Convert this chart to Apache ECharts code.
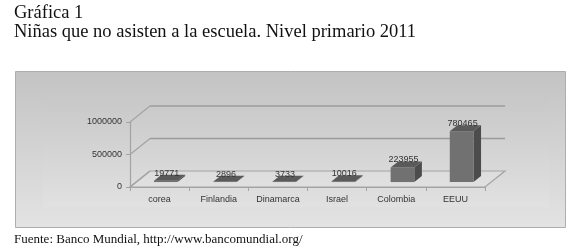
<!DOCTYPE html>
<html>
<head>
<meta charset="utf-8">
<script src="https://cdn.jsdelivr.net/npm/echarts@6/dist/echarts.min.js"></script>
<style>
html,body{margin:0;padding:0;background:#fff;}
#chart{width:580px;height:250px;}
</style>
</head>
<body>
<div id="chart"></div>
<script>
var categories = ['corea', 'Finlandia', 'Dinamarca', 'Israel', 'Colombia', 'EEUU'];
var values = [19771, 2896, 3733, 10016, 223955, 780465];
var yTicks = [0, 500000, 1000000];
var titleLine1 = 'Gráfica 1';
var titleLine2 = 'Niñas que no asisten a la escuela. Nivel primario 2011';
var sourceText = 'Fuente: Banco Mundial, http://www.bancomundial.org/';

var DX = 20, DY = -16;          // 3D depth offset of the floor
var F0 = 0.31, F1 = 0.69;       // bar depth position (fraction of floor depth)
var BARW = 0.40;                // bar width as fraction of category band

var chart = echarts.init(document.getElementById('chart'), null, {renderer: 'canvas'});

function renderFrame(params, api) {
  var cs = params.coordSys;
  var x0 = cs.x, x1 = cs.x + cs.width;
  var yb = api.coord([0, 0])[1];
  var children = [];
  children.push({
    type: 'polygon',
    shape: {points: [[x0, yb], [x1, yb], [x1 + DX, yb + DY], [x0 + DX, yb + DY]]},
    style: {fill: 'rgba(255,255,255,0.12)', stroke: '#a3a3a3', lineWidth: 1.2}
  });
  for (var i = 0; i < yTicks.length; i++) {
    var y = api.coord([0, yTicks[i]])[1];
    if (yTicks[i] !== 0) {
      children.push({
        type: 'line',
        shape: {x1: x0 + DX, y1: y + DY, x2: x1 + DX, y2: y + DY},
        style: {stroke: '#9b9b9b', lineWidth: 1.5}
      });
    }
    children.push({
      type: 'line',
      shape: {x1: x0, y1: y, x2: x0 + DX, y2: y + DY},
      style: {stroke: '#a3a3a3', lineWidth: 1.2}
    });
  }
  return {type: 'group', children: children};
}

function renderBar(params, api) {
  var idx = api.value(0), v = api.value(1);
  var base = api.coord([idx, 0]);
  var top = api.coord([idx, v]);
  var band = api.size([1, 0])[0];
  var w = band * BARW;
  var xa = base[0] - w / 2 + DX * F0, xb = xa + w;
  var yb = base[1] + DY * F0, yt = top[1] + DY * F0;
  var bdx = DX * (F1 - F0), bdy = DY * (F1 - F0);
  return {
    type: 'group',
    children: [
      {type: 'polygon', shape: {points: [[xb, yt], [xb + bdx, yt + bdy], [xb + bdx, yb + bdy], [xb, yb]]},
       style: {fill: '#4c4c4c'}},
      {type: 'polygon', shape: {points: [[xa, yt], [xb, yt], [xb, yb], [xa, yb]]},
       style: {fill: '#717171'}},
      {type: 'polygon', shape: {points: [[xa, yt], [xb, yt], [xb + bdx, yt + bdy], [xa + bdx, yt + bdy]]},
       style: {fill: '#5a5a5a'}},
      {type: 'text', x: xa + w / 2 + 1, y: yt - 3,
       style: {text: String(v), fill: '#333', font: '9px "Liberation Sans"', align: 'center', verticalAlign: 'bottom'}}
    ]
  };
}

var option = {
  animation: false,
  backgroundColor: '#ffffff',
  graphic: [
    {type: 'rect', z: -10, shape: {x: 15.5, y: 71.5, width: 550, height: 156},
     style: {fill: {type: 'linear', x: 0, y: 0, x2: 0, y2: 1,
       colorStops: [{offset: 0, color: '#c3c3c3'}, {offset: 1, color: '#e3e3e3'}]},
       stroke: '#aeaeae', lineWidth: 1}},
    {type: 'rect', z: -9, shape: {x: 43, y: 99, width: 506, height: 108},
     style: {fill: {type: 'linear', x: 0, y: 0, x2: 0, y2: 1,
       colorStops: [{offset: 0, color: '#c8c8c8'}, {offset: 1, color: '#e1e1e1'}]}}},
    {type: 'text', left: 14, top: 4,
     style: {text: titleLine1, fill: '#111', font: '18.5px "Liberation Serif"'}},
    {type: 'text', left: 14, top: 23,
     style: {text: titleLine2, fill: '#111', font: '18.5px "Liberation Serif"'}},
    {type: 'text', left: 14, top: 233,
     style: {text: sourceText, fill: '#111', font: '13px "Liberation Serif"'}}
  ],
  grid: {left: 130, top: 122, width: 355, height: 65},
  xAxis: {
    type: 'category',
    data: categories,
    axisLine: {show: true, lineStyle: {color: '#a3a3a3', width: 1.2}},
    axisTick: {show: true, length: 4, lineStyle: {color: '#a3a3a3'}},
    axisLabel: {color: '#333', fontSize: 9, fontFamily: 'Liberation Sans', margin: 8},
    splitLine: {show: false}
  },
  yAxis: {
    type: 'value',
    min: 0, max: 1000000, interval: 500000,
    axisLine: {show: true, lineStyle: {color: '#a3a3a3', width: 1.2}},
    axisTick: {show: true, length: 4, lineStyle: {color: '#a3a3a3'}},
    axisLabel: {color: '#333', fontSize: 9, fontFamily: 'Liberation Sans', margin: 8,
                formatter: function (v) { return String(v); }},
    splitLine: {show: false}
  },
  series: [
    {type: 'custom', renderItem: renderFrame, data: [[0, 0]], z: 1, silent: true},
    {type: 'custom', renderItem: renderBar,
     data: values.map(function (v, i) { return [i, v]; }), z: 3,
     encode: {x: 0, y: 1}}
  ]
};
chart.setOption(option);
</script>
</body>
</html>
